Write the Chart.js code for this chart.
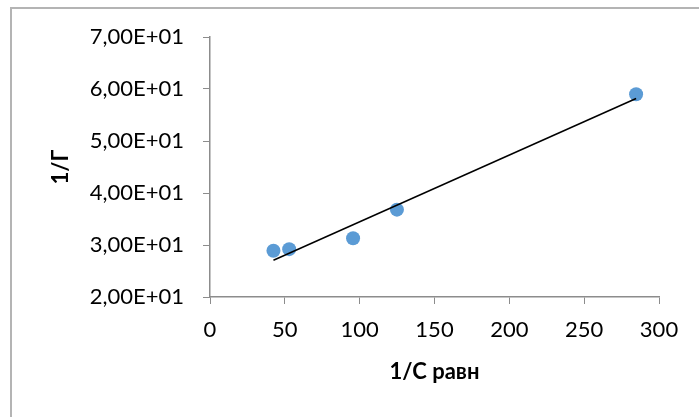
<!DOCTYPE html>
<html>
<head>
<meta charset="utf-8">
<script src="https://cdn.jsdelivr.net/npm/chart.js@4"></script>
<style>
    body { margin: 0; background: #ffffff; }
    #chart_area { width: 699px; height: 417px; }
</style>
</head>
<body>
<div id="chart_area"><canvas id="adsorption" width="699" height="417"></canvas></div>
<script>
// Values
var xValues = [42.4, 52.9, 95.6, 124.9, 284.7];   // 1/C равн
var yValues = [28.9, 29.2, 31.3, 36.8, 59.0];     // 1/Г
var xTicks = [0, 50, 100, 150, 200, 250, 300];
var yTicks = [20, 30, 40, 50, 60, 70];
var xTitle = "1/С равн";
var yTitle = "1/Г";

/**
 * Least squares line through the points, like the Excel linear trendline.
 */
function linear_trend(xs, ys) {
    let n = xs.length;
    let mx = xs.reduce((a, b) => a + b, 0) / n;
    let my = ys.reduce((a, b) => a + b, 0) / n;
    let sxy = 0, sxx = 0;
    for (let i = 0; i < n; i++) {
        sxy += (xs[i] - mx) * (ys[i] - my);
        sxx += (xs[i] - mx) * (xs[i] - mx);
    }
    let k = sxy / sxx;
    let b = my - k * mx;
    let x0 = Math.min(...xs), x1 = Math.max(...xs);
    return [{ x: x0, y: k * x0 + b }, { x: x1, y: k * x1 + b }];
}

// Formats 70 as "7,00E+01"
function excel_sci(v) {
    let parts = v.toExponential(2).split("e");
    let exp = parseInt(parts[1], 10);
    let sign = exp < 0 ? "-" : "+";
    let digits = String(Math.abs(exp)).padStart(2, "0");
    return parts[0].replace(".", ",") + "E" + sign + digits;
}

// Thin gray frame around the chart, cut off at the right and bottom
const framePlugin = {
    id: "frame",
    beforeDraw(chart) {
        const ctx = chart.ctx;
        ctx.save();
        ctx.strokeStyle = "#b4b4b4";
        ctx.lineWidth = 2;
        ctx.strokeRect(11, 8, 900, 600);
        ctx.restore();
    }
};

var points = xValues.map((x, i) => ({ x: x, y: yValues[i] }));
var axisGray = "#8c8c8c";
Chart.defaults.font.family = "Lato";
Chart.defaults.color = "#000000";

new Chart("adsorption", {
    type: "scatter",
    data: {
        datasets: [{
            data: points,
            backgroundColor: "#5b9bd5",
            borderWidth: 0,
            pointRadius: 7,
            pointHoverRadius: 7,
            order: 2
        }, {
            type: "line",
            data: linear_trend(xValues, yValues),
            borderColor: "#000000",
            borderWidth: 1.5,
            pointRadius: 0,
            fill: false,
            order: 1
        }]
    },
    options: {
        responsive: false,
        animation: false,
        events: [],
        layout: { padding: { top: 37, right: 40, left: 0, bottom: 0 } },
        plugins: {
            legend: { display: false },
            tooltip: { enabled: false }
        },
        scales: {
            x: {
                type: "linear",
                min: 0,
                max: 300,
                afterBuildTicks: (axis) => { axis.ticks = xTicks.map(v => ({ value: v })); },
                afterFit: (axis) => { axis.height = 120; },
                ticks: { font: { size: 22 }, padding: 13 },
                grid: { drawOnChartArea: false, tickLength: 7, color: axisGray },
                border: { color: axisGray, width: 1.5 },
                title: {
                    display: true,
                    text: xTitle,
                    font: { size: 22, weight: "bold" },
                    padding: { top: 0, bottom: 32 }
                }
            },
            y: {
                min: 20,
                max: 70,
                afterBuildTicks: (axis) => { axis.ticks = yTicks.map(v => ({ value: v })); },
                afterFit: (axis) => { axis.width = 210; },
                ticks: { font: { size: 22 }, padding: 19, callback: (v) => excel_sci(v) },
                grid: { drawOnChartArea: false, tickLength: 7, color: axisGray },
                border: { color: axisGray, width: 1.5 },
                title: {
                    display: true,
                    text: yTitle,
                    font: { size: 22, weight: "bold" },
                    padding: { top: 48, bottom: 0 }
                }
            }
        }
    },
    plugins: [framePlugin]
});
</script>
</body>
</html>
